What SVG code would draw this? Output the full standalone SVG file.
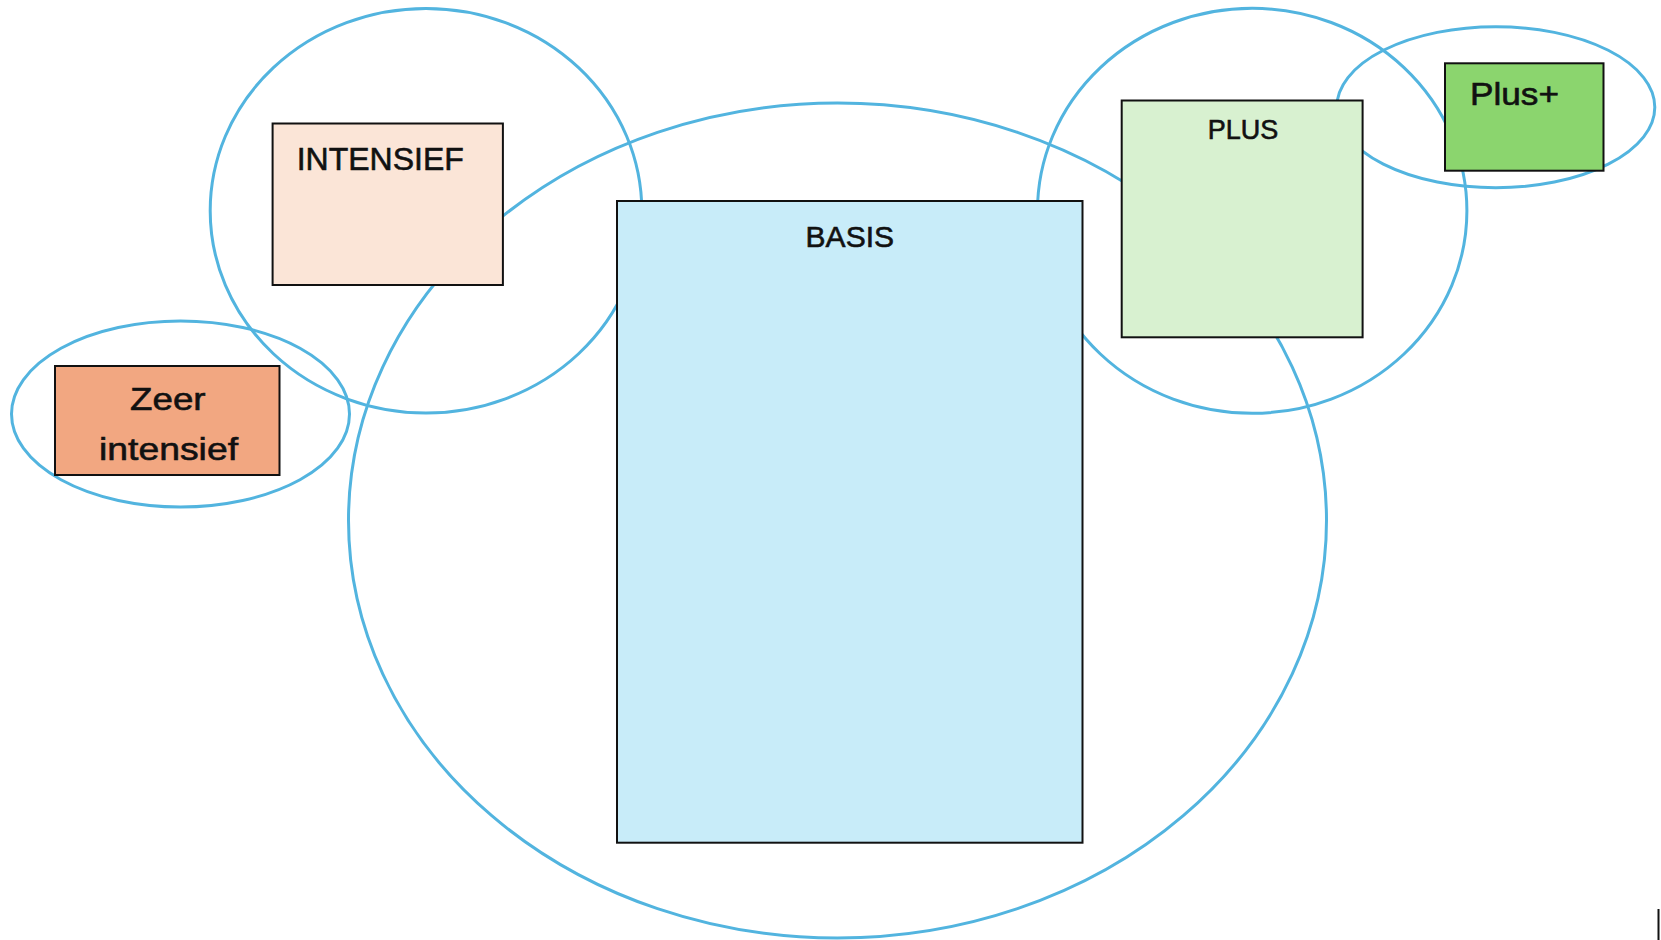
<svg xmlns="http://www.w3.org/2000/svg" width="1661" height="940" viewBox="0 0 1661 940">
  <style>
    .ring { fill: none; stroke: #52B4DF; stroke-width: 3; }
    .box { stroke: #111; stroke-width: 2; }
    .lbl { font-family: "Liberation Sans", Arial, sans-serif; fill: #111; stroke: #111; stroke-width: 0.6; }
  </style>
  <rect x="0" y="0" width="1661" height="940" fill="#ffffff"/>
  <g id="circles">
    <ellipse class="ring" cx="837.5" cy="520.5" rx="489" ry="417.5" stroke-width="2.6"/>
    <ellipse class="ring" cx="426" cy="210.7" rx="215.8" ry="202.3"/>
    <ellipse class="ring" cx="180.5" cy="414" rx="169" ry="93"/>
    <ellipse class="ring" cx="1252.2" cy="210.8" rx="214.7" ry="202.5"/>
    <ellipse class="ring" cx="1495.8" cy="107.2" rx="159" ry="80.5"/>
  </g>
  <g id="connectors"></g>
  <g id="node-intensief">
    <rect class="box" x="272.6" y="123.5" width="230.3" height="161.5" fill="#FBE5D7" stroke="#444" stroke-width="1.2"/>
    <text class="lbl" x="296.7" y="170" font-size="32">INTENSIEF</text>
  </g>
  <g id="node-zeer-intensief">
    <rect class="box" x="55" y="366" width="224.5" height="109" fill="#F2A781" stroke-width="2.5"/>
    <text class="lbl" x="167.8" y="410" font-size="32" text-anchor="middle" textLength="75.5" lengthAdjust="spacingAndGlyphs">Zeer</text>
    <text class="lbl" x="168.5" y="460" font-size="32" text-anchor="middle" textLength="139" lengthAdjust="spacingAndGlyphs">intensief</text>
  </g>
  <g id="node-basis">
    <rect class="box" x="617" y="201" width="465.5" height="641.7" fill="#C8ECF9"/>
    <text class="lbl" x="849.8" y="246.7" font-size="30" text-anchor="middle">BASIS</text>
  </g>
  <g id="node-plus">
    <rect class="box" x="1121.7" y="100.5" width="240.9" height="236.8" fill="#D8F1D0" stroke-width="2.5"/>
    <text class="lbl" x="1243" y="139.3" font-size="27" text-anchor="middle">PLUS</text>
  </g>
  <g id="node-plusplus">
    <rect class="box" x="1445" y="63.3" width="158.5" height="107.4" fill="#8BD56E" stroke="#222" stroke-width="1.5"/>
    <text class="lbl" x="1470" y="105" font-size="31" textLength="89" lengthAdjust="spacingAndGlyphs">Plus+</text>
  </g>
  <line x1="1658.5" y1="909" x2="1658.5" y2="940" stroke="#111" stroke-width="2"/>
</svg>
